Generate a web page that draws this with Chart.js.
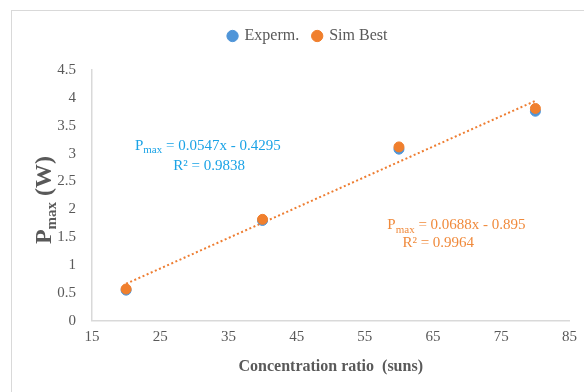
<!DOCTYPE html>
<html>
<head>
<meta charset="utf-8">
<script src="https://cdn.jsdelivr.net/npm/chart.js@4.4.1/dist/chart.umd.min.js"></script>
<style>
  html, body { margin: 0; padding: 0; background: #fff; }
  #wrap { width: 584px; height: 392px; position: relative; }
</style>
</head>
<body>
<div id="wrap"><canvas id="chart" width="584" height="392"></canvas></div>
<script>
// concentration ratio (suns)
const ratios = [20, 40, 60, 80];
const expermPmax = [0.55, 1.80, 3.08, 3.76];
const simBestPmax = [0.57, 1.82, 3.12, 3.81];
// linear trendline ends as drawn
const trendX = [20, 80];
const trendY = [0.665, 3.947];
const xTicks = [15, 25, 35, 45, 55, 65, 75, 85];

const gray = '#595959';
const serif = '"Liberation Serif", "Times New Roman", serif';

// text with a "max" subscript after P
function drawPmax(ctx, x, y, rest, size, sub, bold, color) {
    const w = bold ? 'bold ' : '';
    ctx.fillStyle = color;
    ctx.textBaseline = 'alphabetic';
    ctx.textAlign = 'left';
    ctx.font = w + size + 'px ' + serif;
    ctx.fillText('P', x, y);
    x += ctx.measureText('P').width;
    ctx.font = w + sub + 'px ' + serif;
    ctx.fillText('max', x, y + size * 0.22);
    x += ctx.measureText('max').width;
    ctx.font = w + size + 'px ' + serif;
    ctx.fillText(rest, x, y);
}

const extras = {
    id: 'extras',
    beforeInit(chart) {
        // leave a gap between legend and plot
        const fit = chart.legend.fit;
        chart.legend.fit = function() {
            fit.call(this);
            this.height += 16;
        };
    },
    afterLayout(chart) {
        // legend sits a little right of centre
        chart.legend.left += 22;
        chart.legend.right += 22;
    },
    beforeDraw(chart) {
        const ctx = chart.ctx;
        ctx.save();
        ctx.strokeStyle = '#d9d9d9';
        ctx.lineWidth = 1;
        ctx.strokeRect(11.5, 10.5, 600, 400);
        ctx.restore();
    },
    afterDraw(chart) {
        const ctx = chart.ctx;
        const xs = chart.scales.x, ys = chart.scales.y;
        ctx.save();
        // y axis title, rotated
        ctx.translate(51, 200);
        ctx.rotate(-Math.PI / 2);
        ctx.font = 'bold 24px ' + serif;
        let total = ctx.measureText('P').width + ctx.measureText(' (W)').width;
        ctx.font = 'bold 15px ' + serif;
        total += ctx.measureText('max').width;
        drawPmax(ctx, -total / 2, 0, ' (W)', 24, 15, true, gray);
        ctx.restore();

        ctx.save();
        // trendline equations
        drawPmax(ctx, xs.getPixelForValue(21.3), ys.getPixelForValue(3.07), ' = 0.0547x - 0.4295', 15, 11, false, '#1ba3e6');
        ctx.font = '15px ' + serif;
        ctx.fillText('R² = 0.9838', xs.getPixelForValue(26.9), ys.getPixelForValue(2.70));
        drawPmax(ctx, xs.getPixelForValue(58.3), ys.getPixelForValue(1.64), ' = 0.0688x - 0.895', 15, 11, false, '#f08a3c');
        ctx.font = '15px ' + serif;
        ctx.fillText('R² = 0.9964', xs.getPixelForValue(60.5), ys.getPixelForValue(1.33));
        ctx.restore();
    }
};

const ctx = document.getElementById('chart').getContext('2d');
const chart = new Chart(ctx, {
    type: 'scatter',
    data: {
        datasets: [
            {
                label: 'Experm.',
                data: ratios.map((x, i) => ({ x: x, y: expermPmax[i] })),
                backgroundColor: '#4f95d8',
                borderColor: '#4f95d8',
                pointRadius: 5,
                order: 2
            },
            {
                label: 'Sim Best',
                data: ratios.map((x, i) => ({ x: x, y: simBestPmax[i] })),
                backgroundColor: '#f07f2d',
                borderColor: '#f07f2d',
                pointRadius: 5,
                order: 1
            },
            {
                label: 'trend',
                type: 'line',
                data: trendX.map((x, i) => ({ x: x, y: trendY[i] })),
                borderColor: '#ee7d31',
                borderWidth: 2,
                borderDash: [2, 2.5],
                pointRadius: 0,
                fill: false,
                order: 3
            }
        ]
    },
    options: {
        responsive: false,
        animation: false,
        layout: { padding: { top: 14, right: 12, bottom: 16, left: 0 } },
        plugins: {
            tooltip: { enabled: false },
            legend: {
                position: 'top',
                labels: {
                    filter: item => item.text !== 'trend',
                    sort: (a, b) => a.datasetIndex - b.datasetIndex,
                    usePointStyle: true,
                    pointStyle: 'circle',
                    boxWidth: 8,
                    boxHeight: 8,
                    padding: 14,
                    color: gray,
                    font: { family: serif, size: 16 }
                }
            }
        },
        scales: {
            x: {
                type: 'linear',
                min: 15,
                max: 85,
                afterBuildTicks: s => { s.ticks = xTicks.map(v => ({ value: v })); },
                grid: { display: false, drawTicks: false },
                border: { color: '#d9d9d9', width: 1.5 },
                ticks: { color: gray, padding: 7, font: { family: serif, size: 15 } },
                title: {
                    display: true,
                    text: 'Concentration ratio  (suns)',
                    color: gray,
                    padding: { top: 4, bottom: 0 },
                    font: { family: serif, size: 16, weight: 'bold' }
                }
            },
            y: {
                min: 0,
                max: 4.5,
                afterFit: s => { s.width = 92; },
                grid: { display: false, drawTicks: false },
                border: { color: '#d9d9d9', width: 1.5 },
                ticks: {
                    stepSize: 0.5,
                    color: gray,
                    padding: 16,
                    font: { family: serif, size: 15 },
                    callback: v => String(v)
                }
            }
        }
    },
    plugins: [extras]
});
</script>
</body>
</html>
